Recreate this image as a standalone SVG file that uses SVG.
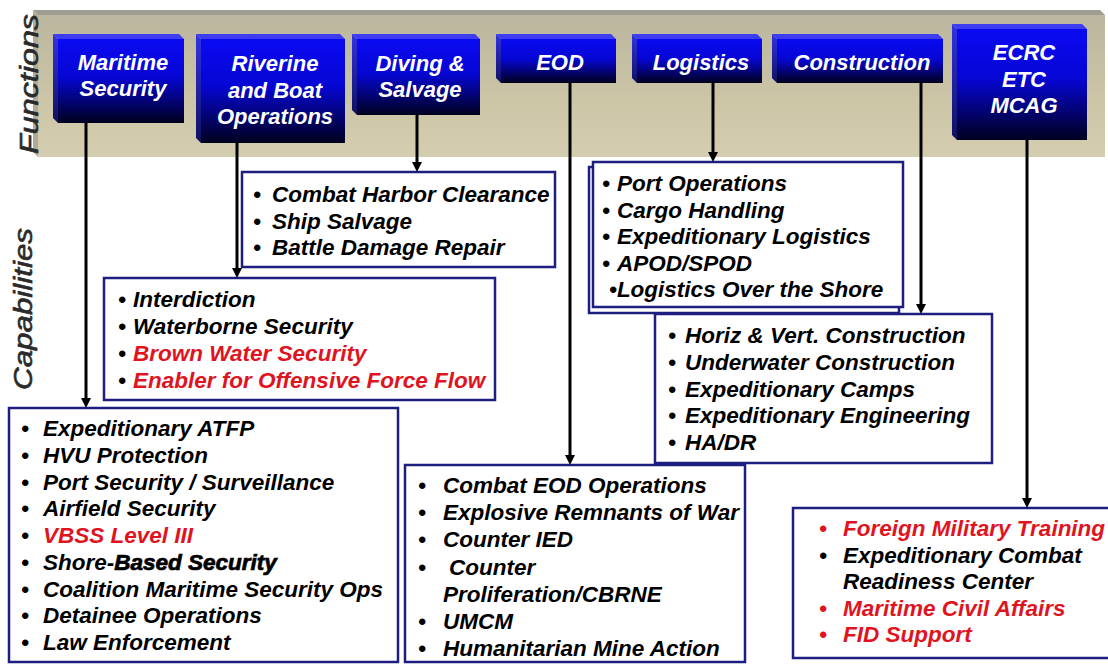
<svg xmlns="http://www.w3.org/2000/svg" width="1108" height="664" viewBox="0 0 1108 664">
<defs>
<linearGradient id="face" x1="0" y1="0" x2="0" y2="1">
<stop offset="0" stop-color="#0a0af2"/>
<stop offset="0.45" stop-color="#0606d4"/>
<stop offset="1" stop-color="#00001e"/>
</linearGradient>
<linearGradient id="side" x1="0" y1="0" x2="0" y2="1">
<stop offset="0" stop-color="#3232e6"/>
<stop offset="1" stop-color="#101060"/>
</linearGradient>
<linearGradient id="band" x1="0" y1="0" x2="0" y2="1">
<stop offset="0" stop-color="#bbb69e"/>
<stop offset="0.6" stop-color="#ccc5a6"/>
<stop offset="1" stop-color="#d4cdaf"/>
</linearGradient>
<marker id="arr" markerUnits="userSpaceOnUse" markerWidth="10" markerHeight="10" refX="0" refY="5" orient="auto" viewBox="0 0 10 10"><path d="M0,0 L10,5 L0,10 z" fill="#000"/></marker>
<style>
.fn{font-family:"Liberation Sans",Arial,sans-serif;font-weight:bold;font-style:italic;font-size:22px;fill:#fff;text-anchor:middle}
.it{font-family:"Liberation Sans",Arial,sans-serif;font-weight:bold;font-style:italic;font-size:22.5px;fill:#000}
.red{fill:#e0141e}
.cap{fill:#fff;stroke:#1e1e80;stroke-width:2.5}
.top{fill:#3c3cf0}
.lft{fill:url(#side)}
.frt{fill:url(#face)}
.sl{font-family:"Liberation Sans",Arial,sans-serif;font-style:italic;font-size:25px;fill:#2a2a2a;stroke:#2a2a2a;stroke-width:0.6;text-anchor:middle}
.con{stroke:#000;stroke-width:3;fill:none;marker-end:url(#arr)}
</style>
</defs>
<rect width="1108" height="664" fill="#fff"/>
<g id="band">
<polygon points="33,10 1100,10 1105,15 38,15" fill="#9e9d92"/>
<polygon points="33,10 38,15 38,157 33,152" fill="#b0ab96"/>
<rect x="38" y="15" width="1067" height="142" fill="url(#band)"/>
<text class="sl" transform="translate(38,84) rotate(-90)" textLength="140" lengthAdjust="spacingAndGlyphs">Functions</text>
<text class="sl" transform="translate(32,309) rotate(-90)" textLength="162" lengthAdjust="spacingAndGlyphs">Capabilities</text>
</g>
<g id="f-maritime">
<polygon class="top" points="53,34 179,34 184,39 58,39"/><polygon class="lft" points="53,34 58,39 58,123 53,118"/><rect class="frt" x="58" y="39" width="126" height="84"/>
<text class="fn" x="123" y="70">Maritime</text><text class="fn" x="123" y="96">Security</text>
</g>
<g id="f-riverine">
<polygon class="top" points="196,34 340,34 345,39 201,39"/><polygon class="lft" points="196,34 201,39 201,143 196,138"/><rect class="frt" x="201" y="39" width="144" height="104"/>
<text class="fn" x="275" y="71">Riverine</text><text class="fn" x="275" y="98">and Boat</text><text class="fn" x="275" y="124">Operations</text>
</g>
<g id="f-diving">
<polygon class="top" points="352,34 475,34 480,39 357,39"/><polygon class="lft" points="352,34 357,39 357,115 352,110"/><rect class="frt" x="357" y="39" width="123" height="76"/>
<text class="fn" x="420" y="71">Diving &amp;</text><text class="fn" x="420" y="97">Salvage</text>
</g>
<g id="f-eod">
<polygon class="top" points="496,34 611,34 616,39 501,39"/><polygon class="lft" points="496,34 501,39 501,83 496,78"/><rect class="frt" x="501" y="39" width="115" height="44"/>
<text class="fn" x="560" y="70">EOD</text>
</g>
<g id="f-logistics">
<polygon class="top" points="632,34 757,34 762,39 637,39"/><polygon class="lft" points="632,34 637,39 637,83 632,78"/><rect class="frt" x="637" y="39" width="125" height="44"/>
<text class="fn" x="701" y="70">Logistics</text>
</g>
<g id="f-construction">
<polygon class="top" points="772,34 938,34 943,39 777,39"/><polygon class="lft" points="772,34 777,39 777,83 772,78"/><rect class="frt" x="777" y="39" width="166" height="44"/>
<text class="fn" x="862" y="70">Construction</text>
</g>
<g id="f-ecrc">
<polygon class="top" points="952,24 1082,24 1087,29 957,29"/><polygon class="lft" points="952,24 957,29 957,140 952,135"/><rect class="frt" x="957" y="29" width="130" height="111"/>
<text class="fn" x="1024" y="60">ECRC</text><text class="fn" x="1024" y="87">ETC</text><text class="fn" x="1024" y="113">MCAG</text>
</g>
<g id="c-diving">
<rect class="cap" x="242" y="172" width="313" height="95"/>
<text class="it" y="202"><tspan x="253">•</tspan><tspan x="272">Combat Harbor Clearance</tspan></text>
<text class="it" y="228.5"><tspan x="253">•</tspan><tspan x="272">Ship Salvage</tspan></text>
<text class="it" y="255"><tspan x="253">•</tspan><tspan x="272">Battle Damage Repair</tspan></text>
</g>
<g id="c-logistics">
<rect x="589" y="167" width="310" height="146" fill="#fff" stroke="#1e1e80" stroke-width="2.5"/>
<rect class="cap" x="593" y="162" width="310" height="145"/>
<text class="it" y="191"><tspan x="602">•</tspan><tspan x="617">Port Operations</tspan></text>
<text class="it" y="217.5"><tspan x="602">•</tspan><tspan x="617">Cargo Handling</tspan></text>
<text class="it" y="244"><tspan x="602">•</tspan><tspan x="617">Expeditionary Logistics</tspan></text>
<text class="it" y="270.5"><tspan x="602">•</tspan><tspan x="617">APOD/SPOD</tspan></text>
<text class="it" y="297"><tspan x="609">•Logistics Over the Shore</tspan></text>
</g>
<g id="c-riverine">
<rect class="cap" x="104" y="278" width="391" height="122"/>
<text class="it" y="307"><tspan x="118">•</tspan><tspan x="133">Interdiction</tspan></text>
<text class="it" y="334"><tspan x="118">•</tspan><tspan x="133">Waterborne Security</tspan></text>
<text class="it red" y="361"><tspan x="118" fill="#000">•</tspan><tspan x="133">Brown Water Security</tspan></text>
<text class="it red" y="388"><tspan x="118" fill="#000">•</tspan><tspan x="133">Enabler for Offensive Force Flow</tspan></text>
</g>
<g id="c-construction">
<rect class="cap" x="655" y="314" width="337" height="149"/>
<text class="it" y="343"><tspan x="668">•</tspan><tspan x="685">Horiz &amp; Vert. Construction</tspan></text>
<text class="it" y="370"><tspan x="668">•</tspan><tspan x="685">Underwater Construction</tspan></text>
<text class="it" y="396.5"><tspan x="668">•</tspan><tspan x="685">Expeditionary Camps</tspan></text>
<text class="it" y="423"><tspan x="668">•</tspan><tspan x="685">Expeditionary Engineering</tspan></text>
<text class="it" y="450"><tspan x="668">•</tspan><tspan x="685">HA/DR</tspan></text>
</g>
<g id="c-maritime">
<rect class="cap" x="9" y="408" width="389" height="254"/>
<text class="it" y="436"><tspan x="21">•</tspan><tspan x="43">Expeditionary ATFP</tspan></text>
<text class="it" y="462.75"><tspan x="21">•</tspan><tspan x="43">HVU Protection</tspan></text>
<text class="it" y="489.5"><tspan x="21">•</tspan><tspan x="43">Port Security / Surveillance</tspan></text>
<text class="it" y="516.25"><tspan x="21">•</tspan><tspan x="43">Airfield Security</tspan></text>
<text class="it red" y="543"><tspan x="21" fill="#000">•</tspan><tspan x="43">VBSS Level III</tspan></text>
<text class="it" y="569.75"><tspan x="21">•</tspan><tspan x="43">Shore-</tspan><tspan stroke="#000" stroke-width="0.7">Based Security</tspan></text>
<text class="it" y="596.5"><tspan x="21">•</tspan><tspan x="43">Coalition Maritime Security Ops</tspan></text>
<text class="it" y="623.25"><tspan x="21">•</tspan><tspan x="43">Detainee Operations</tspan></text>
<text class="it" y="650"><tspan x="21">•</tspan><tspan x="43">Law Enforcement</tspan></text>
</g>
<g id="c-eod">
<rect class="cap" x="405" y="465" width="340" height="197"/>
<text class="it" y="493"><tspan x="418">•</tspan><tspan x="443">Combat EOD Operations</tspan></text>
<text class="it" y="520"><tspan x="418">•</tspan><tspan x="443">Explosive Remnants of War</tspan></text>
<text class="it" y="547"><tspan x="418">•</tspan><tspan x="443">Counter IED</tspan></text>
<text class="it" y="575"><tspan x="418">•</tspan><tspan x="449">Counter</tspan></text>
<text class="it" y="602"><tspan x="443">Proliferation/CBRNE</tspan></text>
<text class="it" y="629"><tspan x="418">•</tspan><tspan x="443">UMCM</tspan></text>
<text class="it" y="656"><tspan x="418">•</tspan><tspan x="443">Humanitarian Mine Action</tspan></text>
</g>
<g id="c-ecrc">
<rect class="cap" x="793" y="508" width="330" height="150"/>
<text class="it red" y="536"><tspan x="819">•</tspan><tspan x="843">Foreign Military Training</tspan></text>
<text class="it" y="562.5"><tspan x="819">•</tspan><tspan x="843">Expeditionary Combat</tspan></text>
<text class="it" y="589"><tspan x="843">Readiness Center</tspan></text>
<text class="it red" y="615.5"><tspan x="819">•</tspan><tspan x="843">Maritime Civil Affairs</tspan></text>
<text class="it red" y="642"><tspan x="819">•</tspan><tspan x="843">FID Support</tspan></text>
</g>
<g id="connectors">
<line class="con" x1="86" y1="123" x2="86" y2="398"/>
<line class="con" x1="237" y1="143" x2="237" y2="268"/>
<line class="con" x1="417" y1="115" x2="417" y2="162"/>
<line class="con" x1="570" y1="83" x2="570" y2="455"/>
<line class="con" x1="713" y1="83" x2="713" y2="152"/>
<line class="con" x1="921" y1="83" x2="921" y2="304"/>
<line class="con" x1="1027" y1="140" x2="1027" y2="498"/>
</g>
</svg>
